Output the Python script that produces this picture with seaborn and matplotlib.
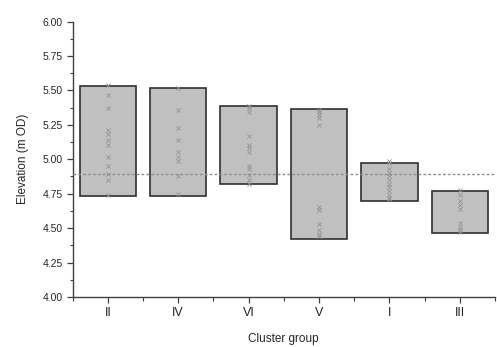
import numpy as np
import pandas as pd
import matplotlib
matplotlib.use("Agg")
import matplotlib.pyplot as plt
import seaborn as sns
from matplotlib.ticker import MultipleLocator

sns.set_style("ticks")
plt.rcParams['font.family'] = ['Liberation Sans', 'DejaVu Sans']

groups = ["II", "IV", "VI", "V", "I", "III"]
range_min = [4.73, 4.73, 4.82, 4.42, 4.70, 4.465]
range_max = [5.53, 5.52, 5.385, 5.365, 4.975, 4.77]

pts_II = [5.54, 5.47, 5.37, 5.21, 5.18, 5.14, 5.10, 5.02, 4.95, 4.89, 4.85, 4.74]
pts_IV = [5.52, 5.36, 5.23, 5.14, 5.05, 5.02, 4.99, 4.88, 4.745]
pts_VI = [5.39, 5.37, 5.34, 5.17, 5.10, 5.08, 5.05, 4.95, 4.93, 4.885, 4.85, 4.82]
pts_V = [5.36, 5.34, 5.32, 5.30, 5.25, 4.655, 4.63, 4.53, 4.49, 4.46, 4.44]
pts_I = [4.99, 4.97, 4.93, 4.90, 4.88, 4.85, 4.82, 4.80, 4.77, 4.74, 4.72, 4.71]
pts_III = [4.78, 4.74, 4.70, 4.67, 4.64, 4.54, 4.51, 4.49, 4.47]

reference_level = 4.89

bars = pd.DataFrame({"group": groups,
                     "low": range_min,
                     "height": np.array(range_max) - np.array(range_min)})
pts = pd.DataFrame({
    "group": (["II"] * len(pts_II) + ["IV"] * len(pts_IV) + ["VI"] * len(pts_VI)
              + ["V"] * len(pts_V) + ["I"] * len(pts_I) + ["III"] * len(pts_III)),
    "elev": pts_II + pts_IV + pts_VI + pts_V + pts_I + pts_III,
})

fig = plt.figure(figsize=(4.97, 3.47), dpi=100)
ax = fig.add_axes([0.146, 0.144, 0.850, 0.794])

sns.barplot(data=bars, x="group", y="height", order=groups, bottom=bars["low"].values,
            color="#c0c0c0", saturation=1, edgecolor="#303030", linewidth=1.2,
            width=0.8, errorbar=None, ax=ax)
sns.stripplot(data=pts, x="group", y="elev", order=groups, jitter=False,
              marker="x", color="#959595", size=3.0, linewidth=0.6, ax=ax)
ax.axhline(reference_level, color="#909090", linestyle=(0, (2, 1.5)), linewidth=1.0, zorder=5)

ax.set_ylim(4.0, 6.0)
ax.set_xlim(-0.5, 5.5)
ax.yaxis.set_major_locator(MultipleLocator(0.25))
ax.yaxis.set_minor_locator(MultipleLocator(0.125))
ax.set_xticks(np.arange(-0.5, 6.0, 1.0), minor=True)
ax.yaxis.set_major_formatter(matplotlib.ticker.FormatStrFormatter("%.2f"))

for s in ["top", "right"]:
    ax.spines[s].set_visible(False)
for s in ["left", "bottom"]:
    ax.spines[s].set_color("#404040")
    ax.spines[s].set_linewidth(1.0)

ax.tick_params(axis="y", which="major", labelsize=7.5, length=4, width=0.9, color="#404040", direction="out", pad=3)
ax.tick_params(axis="y", which="minor", length=2.5, width=0.8, color="#404040", direction="out")
ax.tick_params(axis="x", which="major", labelsize=9, length=4, width=0.9, color="#404040", pad=3)
ax.tick_params(axis="x", which="minor", length=3, width=0.8, color="#404040")

ax.set_xlabel("Cluster group", fontsize=8.5, labelpad=10)
ax.set_ylabel("Elevation (m OD)", fontsize=8.5, labelpad=10)

fig.savefig("out.png", dpi=100)
